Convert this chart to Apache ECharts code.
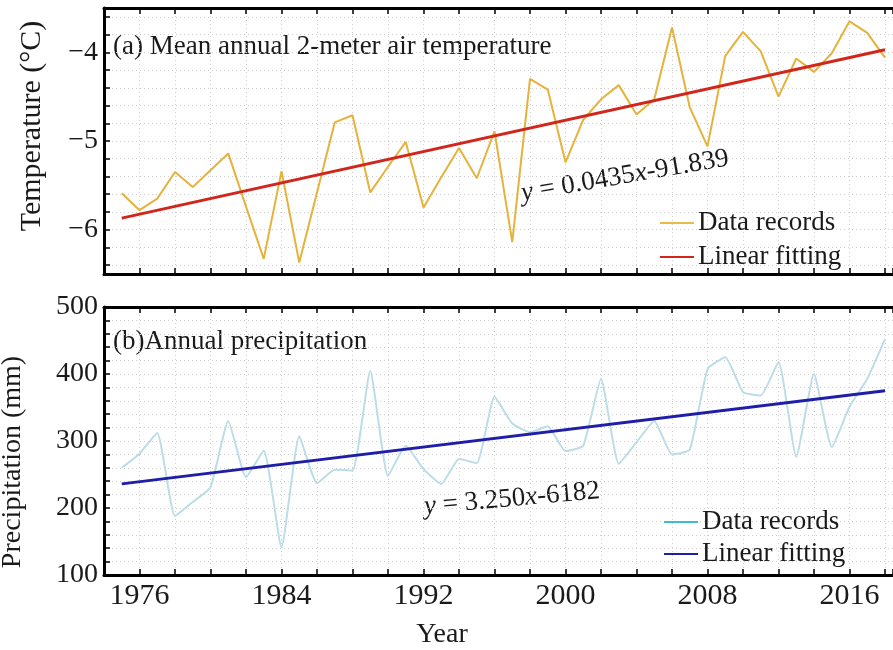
<!DOCTYPE html>
<html>
<head>
<meta charset="utf-8">
<title>Temperature and precipitation</title>
<script src="https://cdn.jsdelivr.net/npm/echarts@6/dist/echarts.min.js"></script>
<style>
  html, body { margin: 0; padding: 0; background: #fff; }
  #chart { width: 893px; height: 650px; }
</style>
</head>
<body>
<div id="chart"></div>
<script>
// data
const years = [1975, 1976, 1977, 1978, 1979, 1980, 1981, 1982, 1983, 1984,
  1985, 1986, 1987, 1988, 1989, 1990, 1991, 1992, 1993, 1994,
  1995, 1996, 1997, 1998, 1999, 2000, 2001, 2002, 2003, 2004,
  2005, 2006, 2007, 2008, 2009, 2010, 2011, 2012, 2013, 2014,
  2015, 2016, 2017, 2018]
const temperature = [-5.59, -5.78, -5.65, -5.35, -5.52, -5.33, -5.14, -5.74, -6.33, -5.34,
  -6.37, -5.58, -4.79, -4.71, -5.58, -5.29, -5.01, -5.75, -5.41, -5.08,
  -5.42, -4.89, -6.14, -4.30, -4.42, -5.24, -4.76, -4.53, -4.37, -4.70,
  -4.53, -3.72, -4.62, -5.06, -4.04, -3.77, -3.99, -4.50, -4.07, -4.22,
  -4.01, -3.65, -3.78, -4.06]
const precipitation = [260, 281, 312, 188, 209, 231, 330, 246, 286, 141,
  307, 237, 257, 256, 405, 248, 293, 258, 236, 273,
  267, 366, 326, 313, 322, 285, 293, 393, 266, 298,
  330, 280, 287, 407, 425, 373, 368, 418, 276, 400,
  291, 351, 393, 452]
const tempFitYears = [1975, 2018]
const tempFit = [-5.87, -3.97]
const precFitYears = [1975, 2018]
const precFit = [236, 375]

// tick labels
const yearLabels = [1976, 1984, 1992, 2000, 2008, 2016]
const tempLabels = [-6, -5, -4]
const tempTicks = [-6.4, -6.2, -6.0, -5.8, -5.6, -5.4, -5.2, -5.0, -4.8, -4.6, -4.4, -4.2, -4.0, -3.8, -3.6]
const precLabels = [100, 200, 300, 400, 500]

const serif = 'Liberation Serif'
const ink = '#1a1a1a'
const frame = { lineStyle: { color: '#000', width: 3 } }
const dotted = { show: true, lineStyle: { color: '#cdcdcd', type: [1, 3], width: 1 } }
const ticks = { inside: true, length: 6, lineStyle: { color: '#000', width: 1.5 } }

function pairs(xs, ys) {
  return xs.map((x, i) => [x, ys[i]])
}

// the original figure is cut off on the right, so the axis stops a little after 2018
function yearAxis(grid, position, withLabels) {
  return {
    type: 'value',
    gridIndex: grid,
    position: position,
    min: 1974,
    max: 2018.45,
    interval: 2,
    axisLine: { onZero: false, ...frame },
    axisTick: ticks,
    splitLine: position === 'bottom' ? dotted : { show: false },
    axisLabel: withLabels
      ? { customValues: yearLabels, formatter: v => String(v), fontFamily: serif, fontSize: 30, color: ink, margin: 6 }
      : { show: false }
  }
}

const chart = echarts.init(document.getElementById('chart'))

chart.setOption({
  animation: false,
  backgroundColor: '#fff',
  grid: [
    { left: 104, top: 8, right: 0, height: 266 },
    { left: 104, top: 307, right: 0, height: 268 }
  ],
  xAxis: [
    yearAxis(0, 'bottom', false),
    yearAxis(0, 'top', false),
    yearAxis(1, 'bottom', true),
    yearAxis(1, 'top', false)
  ],
  yAxis: [
    {
      type: 'value',
      gridIndex: 0,
      min: -6.5,
      max: -3.5,
      axisLine: { onZero: false, ...frame },
      axisTick: { ...ticks, customValues: tempTicks },
      splitLine: dotted,
      axisLabel: {
        customValues: tempLabels,
        formatter: v => String(v).replace('-', '\u2212'),
        fontFamily: serif, fontSize: 28, color: ink, margin: 6
      }
    },
    {
      type: 'value',
      gridIndex: 1,
      min: 100,
      max: 500,
      interval: 20,
      axisLine: { onZero: false, ...frame },
      axisTick: ticks,
      splitLine: dotted,
      axisLabel: { customValues: precLabels, formatter: v => String(v), fontFamily: serif, fontSize: 28, color: ink, margin: 6 }
    }
  ],
  legend: [
    {
      orient: 'vertical',
      left: 655,
      top: 203,
      icon: 'rect',
      itemWidth: 34,
      itemHeight: 2,
      itemGap: 4,
      textStyle: { fontFamily: serif, fontSize: 27, color: ink, lineHeight: 30, padding: [0, 0, 0, -1] },
      data: [
        { name: 'Data records', itemStyle: { color: '#E8BC4A' } },
        { name: 'Linear fitting', itemStyle: { color: '#D0261C' } }
      ]
    },
    {
      orient: 'vertical',
      left: 659,
      top: 502,
      icon: 'rect',
      itemWidth: 34,
      itemHeight: 2,
      itemGap: 2,
      textStyle: { fontFamily: serif, fontSize: 27, color: ink, lineHeight: 30, padding: [0, 0, 0, -1] },
      data: [
        { name: 'Data records', itemStyle: { color: '#3BBCD0' } },
        { name: 'Linear fitting', itemStyle: { color: '#1E1EA8' } }
      ]
    }
  ],
  series: [
    {
      name: 'Data records',
      type: 'line',
      xAxisIndex: 0,
      yAxisIndex: 0,
      data: pairs(years, temperature),
      showSymbol: false,
      lineStyle: { color: '#E6B23C', width: 2 },
      itemStyle: { color: '#E6B23C' },
      z: 2
    },
    {
      name: 'Linear fitting',
      type: 'line',
      xAxisIndex: 0,
      yAxisIndex: 0,
      data: pairs(tempFitYears, tempFit),
      showSymbol: false,
      lineStyle: { color: '#D0261C', width: 3 },
      itemStyle: { color: '#D0261C' },
      z: 3
    },
    {
      name: 'Data records',
      type: 'line',
      xAxisIndex: 2,
      yAxisIndex: 1,
      data: pairs(years, precipitation),
      showSymbol: false,
      smooth: 0.15,
      lineStyle: { color: '#BCDDE8', width: 2 },
      itemStyle: { color: '#BCDDE8' },
      z: 2
    },
    {
      name: 'Linear fitting',
      type: 'line',
      xAxisIndex: 2,
      yAxisIndex: 1,
      data: pairs(precFitYears, precFit),
      showSymbol: false,
      lineStyle: { color: '#1E1EA8', width: 3 },
      itemStyle: { color: '#1E1EA8' },
      z: 3
    }
  ],
  graphic: [
    { // panel titles
      type: 'text', x: 113, y: 47,
      style: { text: '(a) Mean annual 2-meter air temperature', fontFamily: serif, fontSize: 27, fill: ink, verticalAlign: 'middle' }
    },
    {
      type: 'text', x: 113, y: 342,
      style: { text: '(b)Annual precipitation', fontFamily: serif, fontSize: 27, fill: ink, verticalAlign: 'middle' }
    },
    { // fit equations
      type: 'text', x: 625, y: 176, rotation: 0.17,
      style: {
        text: '{i|y}{n| = 0.0435}{i|x}{n|-91.839}',
        align: 'center', verticalAlign: 'middle',
        rich: {
          i: { fontFamily: serif, fontSize: 27, fontStyle: 'italic', fill: ink },
          n: { fontFamily: serif, fontSize: 27, fill: ink }
        }
      }
    },
    {
      type: 'text', x: 512, y: 499, rotation: 0.09,
      style: {
        text: '{i|y}{n| = 3.250}{i|x}{n|-6182}',
        align: 'center', verticalAlign: 'middle',
        rich: {
          i: { fontFamily: serif, fontSize: 27, fontStyle: 'italic', fill: ink },
          n: { fontFamily: serif, fontSize: 27, fill: ink }
        }
      }
    },
    { // axis names
      type: 'text', x: 32, y: 126, rotation: Math.PI / 2,
      style: { text: 'Temperature (°C)', fontFamily: serif, fontSize: 30, fill: ink, align: 'center', verticalAlign: 'middle' }
    },
    {
      type: 'text', x: 13, y: 462, rotation: Math.PI / 2,
      style: { text: 'Precipitation (mm)', fontFamily: serif, fontSize: 28, fill: ink, align: 'center', verticalAlign: 'middle' }
    },
    {
      type: 'text', x: 442, y: 635,
      style: { text: 'Year', fontFamily: serif, fontSize: 28, fill: ink, align: 'center', verticalAlign: 'middle' }
    }
  ]
})
</script>
</body>
</html>
